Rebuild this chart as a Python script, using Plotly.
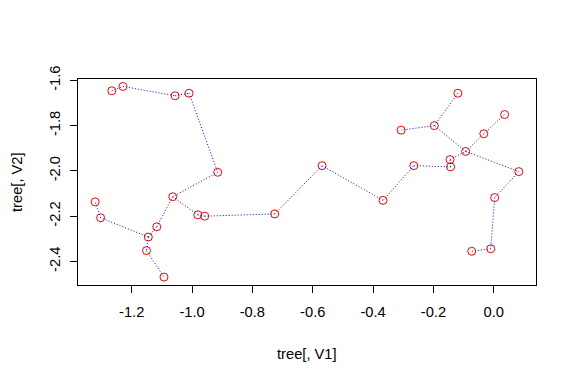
import plotly.graph_objects as go

# Node coordinates (tree[, V1], tree[, V2])
v1 = [-1.266, -1.229, -1.056, -1.010, -0.915,
      -1.321, -1.303, -1.064, -0.981, -0.958,
      -1.117, -1.145, -1.151, -1.093,
      -0.726, -0.569, -0.367, -0.265,
      -0.119, -0.197, -0.307, 0.036, -0.033,
      -0.093, -0.145, -0.143, 0.083,
      0.003, -0.010, -0.073]
v2 = [-1.646, -1.627, -1.668, -1.657, -2.006,
      -2.137, -2.207, -2.114, -2.194, -2.200,
      -2.247, -2.292, -2.352, -2.469,
      -2.190, -1.977, -2.130, -1.977,
      -1.657, -1.800, -1.820, -1.751, -1.836,
      -1.914, -1.950, -1.982, -2.003,
      -2.118, -2.344, -2.355]

# Tree edges (pairs of node indices)
edge_from = [0, 1, 2, 3, 4, 7, 10, 11, 12, 11, 6, 7, 8, 9, 14, 15, 16, 17, 25, 24, 23, 19, 19, 23, 22, 23, 26, 27, 28]
edge_to   = [1, 2, 3, 4, 7, 10, 11, 12, 13, 6, 5, 8, 9, 14, 15, 16, 17, 25, 24, 23, 19, 18, 20, 22, 21, 26, 27, 28, 29]

x_ticks = [-1.2, -1.0, -0.8, -0.6, -0.4, -0.2, 0.0]
x_tick_labels = ["-1.2", "-1.0", "-0.8", "-0.6", "-0.4", "-0.2", "0.0"]
y_ticks = [-2.4, -2.2, -2.0, -1.8, -1.6]
y_tick_labels = ["-2.4", "-2.2", "-2.0", "-1.8", "-1.6"]

ex, ey = [], []
for a, b in zip(edge_from, edge_to):
    ex += [v1[a], v1[b], None]
    ey += [v2[a], v2[b], None]

fig = go.Figure()
fig.add_trace(go.Scatter(
    x=v1, y=v2, mode="markers",
    marker=dict(symbol="circle-open", size=8, color="red", line=dict(width=1, color="red")),
    showlegend=False, hoverinfo="skip"))
fig.add_trace(go.Scatter(
    x=ex, y=ey, mode="lines",
    line=dict(color="blue", width=1, dash="1px,2px"),
    showlegend=False, hoverinfo="skip"))

font = dict(family="Liberation Sans, Arial, sans-serif", size=14.7, color="black")

fig.update_layout(
    width=576, height=384,
    margin=dict(l=70, r=48, t=71, b=107),
    paper_bgcolor="white", plot_bgcolor="white",
    font=font,
    xaxis=dict(range=[-1.378, 0.140], tickvals=x_ticks, ticktext=x_tick_labels,
               showgrid=False, zeroline=False, showline=True, linecolor="black", linewidth=1,
               mirror=True, ticks="outside", ticklen=7, tickcolor="black", tickwidth=1,
               ticklabelstandoff=6),
    yaxis=dict(range=[-2.504, -1.594], tickvals=y_ticks, ticktext=y_tick_labels,
               showgrid=False, zeroline=False, showline=True, linecolor="black", linewidth=1,
               mirror=True, ticks="outside", ticklen=7, tickcolor="black", tickwidth=1,
               tickangle=-90, ticklabelstandoff=4),
    annotations=[
        dict(text="tree[, V1]", xref="paper", yref="paper", x=0.5, y=0,
             yshift=-69, xanchor="center", yanchor="middle", showarrow=False, font=font),
        dict(text="tree[, V2]", xref="paper", yref="paper", x=0, y=0.5,
             xshift=-61, xanchor="center", yanchor="middle", textangle=-90,
             showarrow=False, font=font),
    ],
)

fig.write_html("out.html")
